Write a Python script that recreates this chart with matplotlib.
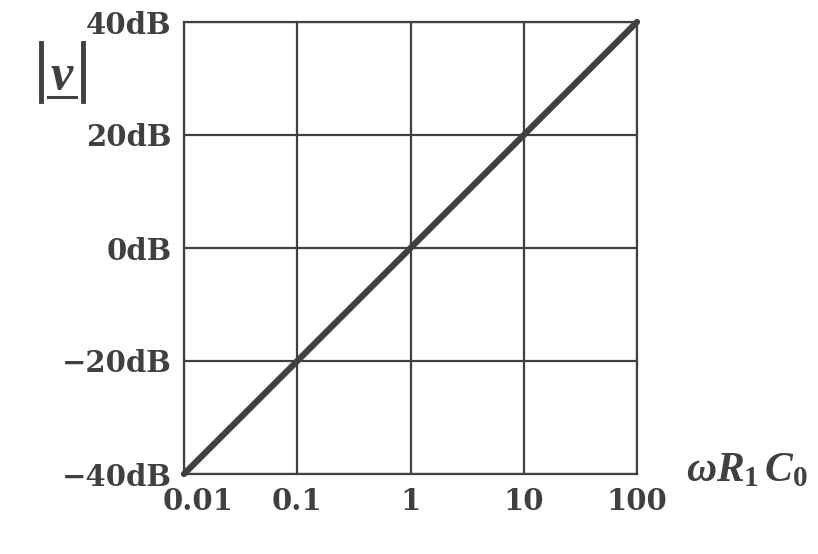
import matplotlib
matplotlib.use("Agg")
import matplotlib.pyplot as plt
from matplotlib.lines import Line2D
import matplotlib.transforms as mtransforms

plt.rcParams['mathtext.fontset'] = 'custom'
plt.rcParams['mathtext.it'] = 'Liberation Serif:italic:bold'
plt.rcParams['mathtext.rm'] = 'Liberation Serif:bold'

x_ticks = [0.01, 0.1, 1, 10, 100]
x_labels = ["0.01", "0.1", "1", "10", "100"]
y_ticks = [-40, -20, 0, 20, 40]
y_labels = ["\u221240dB", "\u221220dB", "0dB", "20dB", "40dB"]
line_x = [0.01, 100]
line_y = [-40, 40]

C = "#404040"
W, H = 818, 554
fig = plt.figure(figsize=(W / 100, H / 100), dpi=100)
ax = fig.add_axes([184 / W, 1 - 474 / H, (637 - 184) / W, (474 - 22) / H])
ax.set_xscale('log')
ax.set_xlim(0.01, 100)
ax.set_ylim(-40, 40)
ax.set_xticks(x_ticks)
ax.set_xticklabels(x_labels)
ax.set_yticks(y_ticks)
ax.set_yticklabels(y_labels)
ax.minorticks_off()
ax.tick_params(length=0, pad=9, colors=C, labelsize=21)
for lab in ax.get_xticklabels() + ax.get_yticklabels():
    lab.set_family('DejaVu Serif')
    lab.set_fontweight('bold')
# shift the first x label right so it clears the y label
first = ax.get_xticklabels()[0]
first.set_transform(first.get_transform() + mtransforms.ScaledTranslation(14 / 100, 0, fig.dpi_scale_trans))
ax.grid(True, color=C, linewidth=1.6)
for s in ax.spines.values():
    s.set_color(C)
    s.set_linewidth(1.6)
ax.plot(line_x, line_y, color=C, linewidth=4.5, solid_capstyle='round', clip_on=False, zorder=5)

fig.text(686 / W, 1 - 481 / H, r'$\omega R_1\,C_0$', fontsize=30, color=C, ha='left', va='baseline')

# |v| label
fig.text(62 / W, 1 - 75 / H, r'$v$', fontsize=36, color=C, ha='center', va='center')
fig.add_artist(Line2D([41 / W, 41 / W], [1 - 43 / H, 1 - 101 / H], color=C, linewidth=3.5))
fig.add_artist(Line2D([83 / W, 83 / W], [1 - 43 / H, 1 - 101 / H], color=C, linewidth=3.5))
fig.add_artist(Line2D([48 / W, 76 / W], [1 - 97 / H, 1 - 97 / H], color=C, linewidth=2.2))

fig.savefig("out.png", dpi=100)
